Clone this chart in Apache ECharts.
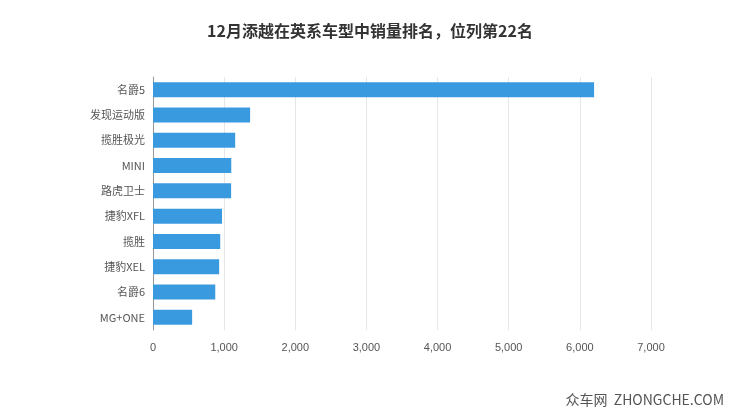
<!DOCTYPE html>
<html lang="zh">
<head>
  <meta charset="UTF-8">
  <title>Chart</title>
  <style>
    html, body { margin: 0; padding: 0; background: #fff; }
    #chart { width: 740px; height: 417px; }
  </style>
</head>
<body>
  <div id="chart"></div>
  <script src="https://cdn.jsdelivr.net/npm/echarts/dist/echarts.min.js"></script>
  <script>
    // values, top to bottom
    var models = ['名爵5', '发现运动版', '揽胜极光', 'MINI', '路虎卫士', '捷豹XFL', '揽胜', '捷豹XEL', '名爵6', 'MG+ONE'];
    var sales = [6200, 1365, 1155, 1100, 1098, 970, 945, 930, 875, 550];
    var xTicks = [0, 1000, 2000, 3000, 4000, 5000, 6000, 7000];

    var myChart = echarts.init(document.getElementById('chart'));
    var option = {
      title: {
        text: '12月添越在英系车型中销量排名，位列第22名',
        left: 'center',
        top: 18,
        textStyle: { fontSize: 16, fontWeight: 'bold', color: '#333', fontFamily: 'Noto Sans CJK SC' }
      },
      graphic: [{
        type: 'text',
        right: 16,
        bottom: 10,
        style: { text: '众车网  ZHONGCHE.COM', fill: '#555', fontSize: 14, fontFamily: 'Noto Sans CJK SC' }
      }],
      grid: { left: 153, right: 89, top: 77, bottom: 87 },
      xAxis: {
        type: 'value',
        min: 0,
        max: xTicks[xTicks.length - 1],
        interval: 1000,
        axisLine: { show: false },
        axisTick: { show: false },
        splitLine: { lineStyle: { color: '#e6e6e6' } },
        axisLabel: {
          color: '#555', fontSize: 11, margin: 12,
          formatter: function (v) { return v.toLocaleString('en-US'); }
        }
      },
      yAxis: {
        type: 'category',
        inverse: true,
        data: models,
        axisLine: { lineStyle: { color: '#999' } },
        axisTick: { show: false },
        axisLabel: { color: '#555', fontSize: 11, fontFamily: 'Noto Sans CJK SC' }
      },
      series: [{
        type: 'bar',
        data: sales,
        barWidth: 15,
        itemStyle: { color: '#3a9ae0' }
      }]
    };
    myChart.setOption(option);
  </script>
</body>
</html>
